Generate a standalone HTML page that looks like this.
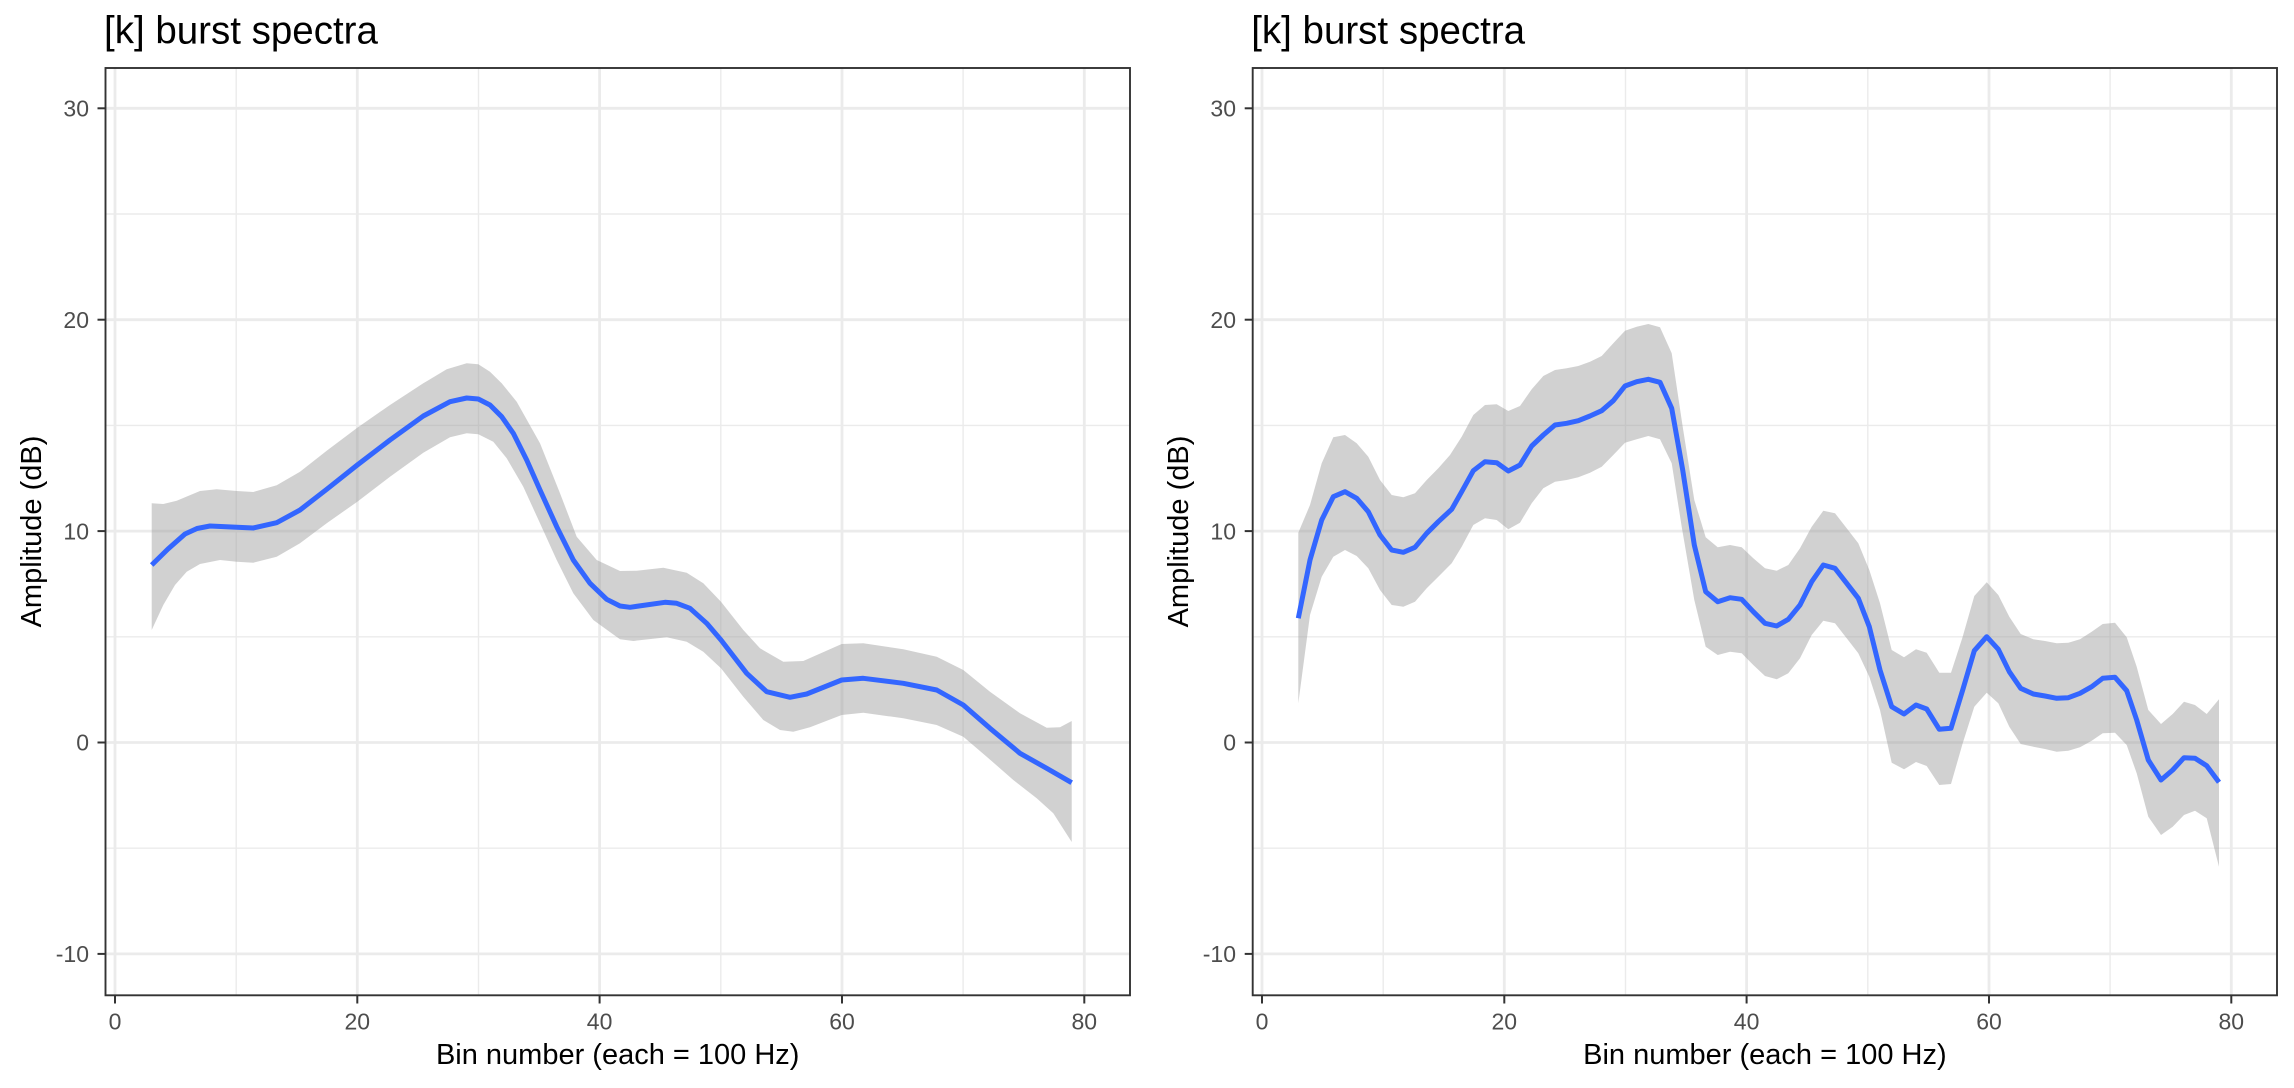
<!DOCTYPE html>
<html><head><meta charset="utf-8"><style>
html,body{margin:0;padding:0;background:#fff;}
svg{display:block;}
text{font-family:"Liberation Sans",Arial,sans-serif;}
</style></head><body>
<svg width="2294" height="1088" viewBox="0 0 2294 1088" xmlns="http://www.w3.org/2000/svg">
<rect width="2294" height="1088" fill="#fff"/>

<defs><clipPath id="cl"><rect x="105.5" y="68" width="1024.5" height="927.3"/></clipPath>
<clipPath id="cr"><rect x="1252.7" y="68" width="1024.3" height="927.3"/></clipPath></defs>

<!-- LEFT PANEL -->
<g clip-path="url(#cl)">
<g stroke="#EBEBEB" stroke-width="1.4">
<line x1="236.2" y1="68" x2="236.2" y2="996"/><line x1="478.5" y1="68" x2="478.5" y2="996"/><line x1="720.8" y1="68" x2="720.8" y2="996"/><line x1="963.1" y1="68" x2="963.1" y2="996"/>
<line x1="105" y1="214" x2="1130" y2="214"/><line x1="105" y1="425.4" x2="1130" y2="425.4"/><line x1="105" y1="636.8" x2="1130" y2="636.8"/><line x1="105" y1="848.2" x2="1130" y2="848.2"/>
</g>
<g stroke="#EBEBEB" stroke-width="2.8">
<line x1="115" y1="68" x2="115" y2="996"/><line x1="357.3" y1="68" x2="357.3" y2="996"/><line x1="599.6" y1="68" x2="599.6" y2="996"/><line x1="842" y1="68" x2="842" y2="996"/><line x1="1084.3" y1="68" x2="1084.3" y2="996"/>
<line x1="105" y1="108.3" x2="1130" y2="108.3"/><line x1="105" y1="319.7" x2="1130" y2="319.7"/><line x1="105" y1="531.1" x2="1130" y2="531.1"/><line x1="105" y1="742.5" x2="1130" y2="742.5"/><line x1="105" y1="953.9" x2="1130" y2="953.9"/>
</g>
<polygon fill="#999999" fill-opacity="0.45" points="151.7,503.3 163.3,504 176.7,500.7 200,491 216.7,489.3 236.7,491 253.3,492 276.7,485.3 300,471.7 326.7,450.7 357.3,427.7 390,405 423.3,383.3 446.7,369.3 466.7,363.3 478.3,364.3 490,371.7 501.7,383.3 516.7,401.7 540,443.3 560,493.3 576.7,536.7 596.7,560 620,571 636.7,570.7 663.3,567.7 686.7,572.7 703.3,583.3 721,601.7 743.3,630 760,648.3 783.3,661.7 803.3,661 841.7,644 863.3,643.3 903.3,649.3 936.7,656.7 963.3,670 990,691.7 1020,713.3 1046.7,727.7 1060,727.3 1071.7,721 1071.7,842 1053.3,813.3 1036.7,798.3 1013.3,780 986.7,756.7 963.3,736.7 936.7,725 903.3,718.3 863.3,712.7 841.7,715 810,727.3 793.3,731.7 780,730 763.3,720 743.3,696.7 721,668.3 703.3,651.7 686.7,641.7 666.7,637.3 633.3,641 620,639.3 593.3,620 573.3,593.3 556.7,560 540,523.3 523.3,486.7 506.7,458.3 493.3,441.7 478.3,434.3 466.7,433.3 450,437.3 423.3,452.7 390,476.7 357.3,501.7 326.7,523.3 300,543.3 276.7,556.7 253.3,562.7 236.7,561.7 220,560 200,564 186.7,571.7 175,585 163.3,605 151.7,630"/>
<polyline fill="none" stroke="#3366FF" stroke-width="5" stroke-linejoin="round" points="151.7,565 168,549 185,534 197,528.5 210,526 236.7,527.3 253.3,528 276.7,522.7 300,510 326.7,489.3 357.3,465 390,440 423.3,416 450,401.7 466.7,398 478.3,399 490,405 501.7,416.7 513.3,433.3 526.7,460 540,490 556.7,526.7 573.3,560 590,583.3 606.7,599.3 620,606 630,607.3 665,602.3 676.7,603.3 690,608.3 706.7,623.3 721,640 746.7,673.3 766.7,691.7 790,697.3 806.7,694 841.7,680 863.3,678.3 903.3,683.3 936.7,690 963.3,705 990,728.3 1020,753.3 1046.7,768.3 1071.7,782.7"/>
</g>
<rect x="105.5" y="68" width="1024.5" height="927.3" fill="none" stroke="#333333" stroke-width="1.9"/>

<!-- RIGHT PANEL -->
<g clip-path="url(#cr)">
<g stroke="#EBEBEB" stroke-width="1.4">
<line x1="1383.2" y1="68" x2="1383.2" y2="996"/><line x1="1625.5" y1="68" x2="1625.5" y2="996"/><line x1="1867.8" y1="68" x2="1867.8" y2="996"/><line x1="2110.1" y1="68" x2="2110.1" y2="996"/>
<line x1="1252" y1="214" x2="2278" y2="214"/><line x1="1252" y1="425.4" x2="2278" y2="425.4"/><line x1="1252" y1="636.8" x2="2278" y2="636.8"/><line x1="1252" y1="848.2" x2="2278" y2="848.2"/>
</g>
<g stroke="#EBEBEB" stroke-width="2.8">
<line x1="1262" y1="68" x2="1262" y2="996"/><line x1="1504.3" y1="68" x2="1504.3" y2="996"/><line x1="1746.6" y1="68" x2="1746.6" y2="996"/><line x1="1989" y1="68" x2="1989" y2="996"/><line x1="2231.3" y1="68" x2="2231.3" y2="996"/>
<line x1="1252" y1="108.3" x2="2278" y2="108.3"/><line x1="1252" y1="319.7" x2="2278" y2="319.7"/><line x1="1252" y1="531.1" x2="2278" y2="531.1"/><line x1="1252" y1="742.5" x2="2278" y2="742.5"/><line x1="1252" y1="953.9" x2="2278" y2="953.9"/>
</g>
<polygon fill="#999999" fill-opacity="0.45" points="1298.3,532.7 1310,505 1321.7,463.3 1333.3,437.3 1345,435 1356.7,443.3 1368.3,456.7 1380,480 1391.7,495 1403.3,497.3 1415,493.3 1426.7,480 1438.3,468.3 1450,455 1461.7,436.7 1473.3,415 1485,405 1496.7,404.3 1508.3,411 1520,406 1531.7,389.3 1543.3,376 1555,370 1566.7,368.3 1578.3,366 1590,361.7 1601.7,356 1613.3,343.3 1625,330.7 1636.7,326.7 1648.3,324 1660,327.3 1671.7,353.3 1682.7,426.7 1694.3,500 1705.7,537.3 1717.7,547.3 1730,545 1741.7,547.3 1753.3,558.3 1765,568.3 1776.7,570.7 1788.3,565 1800,548.3 1811.7,526.7 1823.3,510.7 1835,513.3 1846.7,528.3 1858.3,543.3 1869.3,570 1880,603.3 1891.7,650 1904,657.3 1916,649.3 1926.7,652.7 1939.3,672.7 1951,672.7 1962.7,636.7 1974.3,596 1986.7,582.3 1998.3,595 2009.3,616.7 2020.7,634 2033.3,639.3 2045,641 2056.7,643.3 2068.3,642.7 2080,639.3 2091.7,631.7 2102.7,624 2115,622.7 2126.7,637.3 2136.7,666.7 2148.3,710 2161,724 2172.7,714 2184,701.7 2195,705 2206.7,714 2219,699.3 2219,866.7 2206.7,818.3 2195,810.7 2184,815 2172.7,826.7 2161,835 2148.3,816.7 2136.7,773.3 2126.7,745 2115,732.7 2102.7,733.3 2091.7,740.7 2080,747.3 2068.3,750.7 2056.7,751.7 2045,749 2033.3,746.7 2020.7,744 2009.3,726.7 1998.3,703.3 1986.7,692.7 1974.3,706.7 1962.7,743.3 1951,784 1939.3,785 1926.7,766 1916,762 1904,769.3 1891.7,762.7 1880,710 1869.3,676.7 1858.3,653.3 1846.7,638.3 1835,623.3 1823.3,620.7 1811.7,635 1800,658.3 1788.3,673.3 1776.7,679.3 1765,676 1753.3,665 1741.7,653.3 1730,651.7 1717.7,655 1705.7,646.7 1694.3,600 1681.7,526.7 1671.7,463.3 1660,439.3 1648.3,436 1636.7,439.3 1625,442.7 1613.3,455 1601.7,466.7 1590,472.7 1578.3,477.3 1566.7,480 1555,481.7 1543.3,488.3 1531.7,503.3 1520,522.7 1508.3,529.3 1496.7,520 1485,518.3 1473.3,525 1461.7,546.7 1451.7,563.3 1438.3,576.7 1426.7,588.3 1415,601.7 1403.3,606.7 1391.7,605 1380,590 1368.3,568.3 1356.7,556 1345,550 1333.3,556.7 1321.7,576.7 1310,615 1298.3,703.3"/>
<polyline fill="none" stroke="#3366FF" stroke-width="5" stroke-linejoin="round" points="1298.3,618.3 1310,560 1321.7,520 1333.3,496.7 1345,491.7 1356.7,498.3 1368.3,511.7 1380,535 1391.7,550 1403.3,552.3 1415,547.3 1426.7,533.3 1438.3,521.7 1451.7,509.3 1461.7,491.7 1473.3,470.7 1485,461.7 1496.7,462.7 1508.3,471 1520,465 1531.7,446 1543.3,435 1555,425 1566.7,423.3 1578.3,420.7 1590,416 1601.7,410.7 1613.3,400.7 1625,386 1636.7,381.7 1648.3,379.3 1660,382.3 1671.7,408.3 1682.7,470 1694.3,545 1705.7,591.7 1717.7,601.7 1730,597.7 1741.7,599.3 1753.3,611.7 1765,623.3 1776.7,626 1788.3,619.3 1800,605 1811.7,581.7 1823.3,565 1835,568.3 1846.7,583.3 1858.3,598.3 1869.3,626.7 1880,670 1891.7,706.7 1904,714 1916,705 1926.7,709 1939.3,729.3 1951,728.3 1962.7,690 1974.3,650.7 1986.7,636.7 1998.3,649.3 2009.3,671.7 2020.7,688.3 2033.3,694 2045,696 2056.7,698.3 2068.3,697.7 2080,693.3 2091.7,686.7 2102.7,678.3 2115,677.3 2126.7,690.7 2136.7,720 2148.3,760 2161,780 2172.7,770 2184,757.7 2195,758.3 2206.7,765.7 2219,782.3"/>
</g>
<rect x="1252.7" y="68" width="1024.3" height="927.3" fill="none" stroke="#333333" stroke-width="1.9"/>

<!-- ticks -->
<g stroke="#333333" stroke-width="2">
<line x1="97.5" y1="108.3" x2="105.5" y2="108.3"/><line x1="97.5" y1="319.7" x2="105.5" y2="319.7"/><line x1="97.5" y1="531.1" x2="105.5" y2="531.1"/><line x1="97.5" y1="742.5" x2="105.5" y2="742.5"/><line x1="97.5" y1="953.9" x2="105.5" y2="953.9"/>
<line x1="115" y1="995.3" x2="115" y2="1003.5"/><line x1="357.3" y1="995.3" x2="357.3" y2="1003.5"/><line x1="599.6" y1="995.3" x2="599.6" y2="1003.5"/><line x1="842" y1="995.3" x2="842" y2="1003.5"/><line x1="1084.3" y1="995.3" x2="1084.3" y2="1003.5"/>
<line x1="1244.7" y1="108.3" x2="1252.7" y2="108.3"/><line x1="1244.7" y1="319.7" x2="1252.7" y2="319.7"/><line x1="1244.7" y1="531.1" x2="1252.7" y2="531.1"/><line x1="1244.7" y1="742.5" x2="1252.7" y2="742.5"/><line x1="1244.7" y1="953.9" x2="1252.7" y2="953.9"/>
<line x1="1262" y1="995.3" x2="1262" y2="1003.5"/><line x1="1504.3" y1="995.3" x2="1504.3" y2="1003.5"/><line x1="1746.6" y1="995.3" x2="1746.6" y2="1003.5"/><line x1="1989" y1="995.3" x2="1989" y2="1003.5"/><line x1="2231.3" y1="995.3" x2="2231.3" y2="1003.5"/>
</g>

<!-- tick labels -->
<g fill="#4D4D4D" font-size="23" text-anchor="end">
<text x="89" y="116.5">30</text><text x="89" y="327.9">20</text><text x="89" y="539.3">10</text><text x="89" y="750.7">0</text><text x="89" y="962.1">-10</text>
<text x="1236" y="116.5">30</text><text x="1236" y="327.9">20</text><text x="1236" y="539.3">10</text><text x="1236" y="750.7">0</text><text x="1236" y="962.1">-10</text>
</g>
<g fill="#4D4D4D" font-size="23" text-anchor="middle">
<text x="115" y="1029.5">0</text><text x="357.3" y="1029.5">20</text><text x="599.6" y="1029.5">40</text><text x="842" y="1029.5">60</text><text x="1084.3" y="1029.5">80</text>
<text x="1262" y="1029.5">0</text><text x="1504.3" y="1029.5">20</text><text x="1746.6" y="1029.5">40</text><text x="1989" y="1029.5">60</text><text x="2231.3" y="1029.5">80</text>
</g>

<!-- axis titles -->
<g fill="#000" font-size="29" text-anchor="middle">
<text x="617.7" y="1064">Bin number (each = 100 Hz)</text>
<text x="1764.9" y="1064">Bin number (each = 100 Hz)</text>
<text transform="translate(41,531.5) rotate(-90)">Amplitude (dB)</text>
<text transform="translate(1188,531.5) rotate(-90)">Amplitude (dB)</text>
</g>

<!-- titles -->
<g fill="#000" font-size="38.5">
<text x="104" y="43.5">[k] burst spectra</text>
<text x="1251.2" y="43.5">[k] burst spectra</text>
</g>
</svg>
</body></html>
